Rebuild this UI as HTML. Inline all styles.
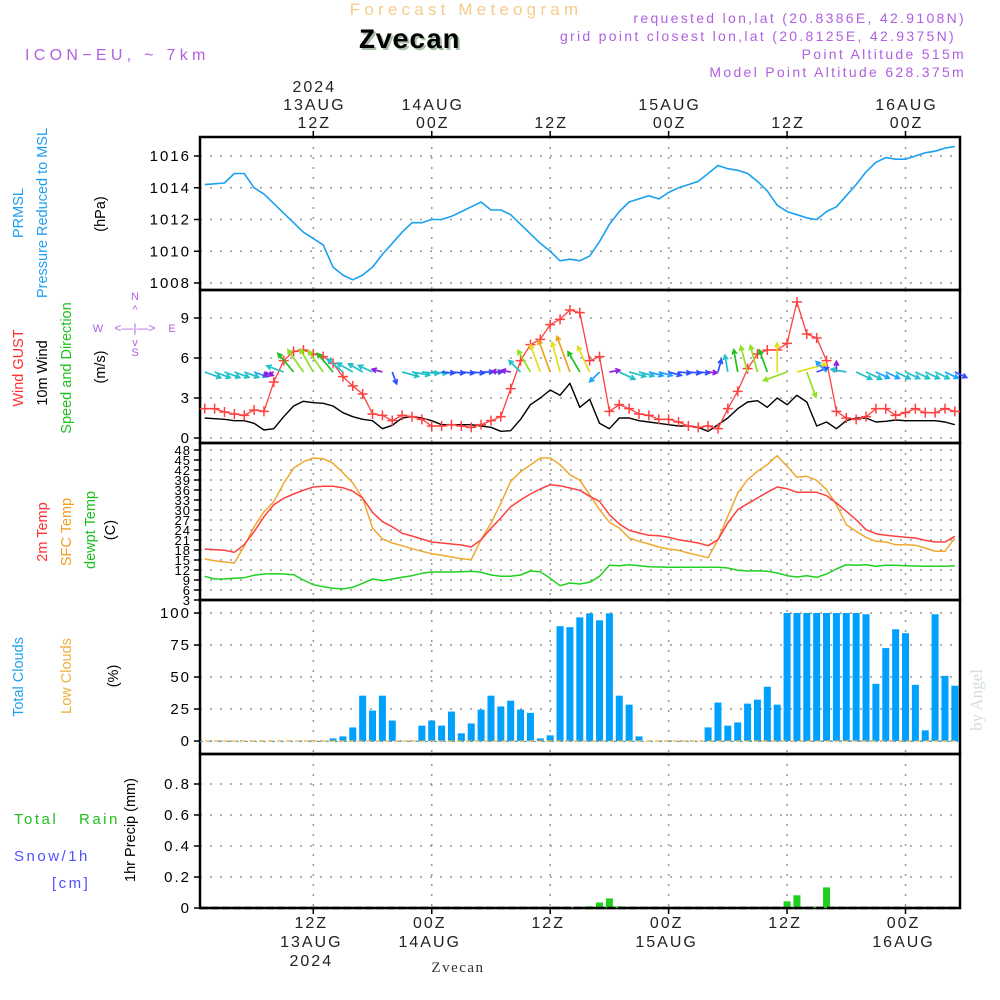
<!DOCTYPE html>
<html><head><meta charset="utf-8"><style>
html,body{margin:0;padding:0;background:#fff;}
svg{display:block;font-family:"Liberation Sans",sans-serif;}
</style></head><body>
<svg id="chart" width="1000" height="1000" viewBox="0 0 1000 1000" xmlns="http://www.w3.org/2000/svg">
<text x="466" y="15" font-size="17" fill="#f5cc8a" text-anchor="middle" letter-spacing="4.2">Forecast Meteogram</text>
<text x="411" y="50" font-size="28" font-weight="bold" font-family="Liberation Mono, monospace" fill="#a8c0a8" text-anchor="middle">Zvecan</text>
<text x="409" y="48" font-size="28" font-weight="bold" font-family="Liberation Mono, monospace" fill="#000" text-anchor="middle">Zvecan</text>
<text x="25" y="60" font-size="16" fill="#b060e0" letter-spacing="4.3">ICON−EU, ~ 7km</text>
<g font-size="14" fill="#b060e0" text-anchor="end" letter-spacing="2.3">
<text x="966" y="23">requested lon,lat (20.8386E, 42.9108N)</text>
<text x="956" y="41">grid point closest lon,lat (20.8125E, 42.9375N)</text>
<text x="966" y="59">Point Altitude 515m</text>
<text x="966" y="77">Model Point Altitude 628.375m</text>
</g>
<text x="458" y="972" font-size="15" font-family="Liberation Serif, serif" fill="#333" text-anchor="middle" letter-spacing="1.5">Zvecan</text>
<text transform="translate(982,700) rotate(-90)" font-size="17" font-family="Liberation Serif, serif" fill="#d4e0d4" text-anchor="middle">by Angel</text>

<g font-size="14.5" text-anchor="middle">
<text transform="translate(23,213) rotate(-90)" fill="#20a0f0">PRMSL</text>
<text transform="translate(47,213) rotate(-90)" fill="#20a0f0">Pressure Reduced to MSL</text>
<text transform="translate(105,214) rotate(-90)" fill="#000">(hPa)</text>
<text transform="translate(23,368) rotate(-90)" fill="#ff3030">Wind GUST</text>
<text transform="translate(47,373) rotate(-90)" fill="#000">10m Wind</text>
<text transform="translate(71,368) rotate(-90)" fill="#20c020">Speed and Direction</text>
<text transform="translate(105,367) rotate(-90)" fill="#000">(m/s)</text>
<text transform="translate(47,532) rotate(-90)" fill="#ff3030">2m Temp</text>
<text transform="translate(71,532) rotate(-90)" fill="#f0a020">SFC Temp</text>
<text transform="translate(95,530) rotate(-90)" fill="#20c020">dewpt Temp</text>
<text transform="translate(115,530) rotate(-90)" fill="#000">(C)</text>
<text transform="translate(23,677) rotate(-90)" fill="#20a0f0">Total Clouds</text>
<text transform="translate(71,676) rotate(-90)" fill="#f0b040">Low Clouds</text>
<text transform="translate(118,676) rotate(-90)" fill="#000">(%)</text>
<text transform="translate(135,830) rotate(-90)" fill="#000">1hr Precip (mm)</text>
</g>
<g font-size="15" letter-spacing="2.5">
<text x="14" y="824" fill="#20c020">Total</text>
<text x="79" y="824" fill="#20c020">Rain</text>
<text x="14" y="861" fill="#5050ff">Snow/1h</text>
<text x="52" y="888" fill="#5050ff">[cm]</text>
</g>
<g font-size="11" fill="#b060e0" text-anchor="middle">
<text x="135" y="300">N</text>
<text x="135" y="313">^</text>
<text x="135" y="332" font-size="12">&lt;—|—&gt;</text>
<text x="98" y="332">W</text>
<text x="172" y="332">E</text>
<text x="135" y="346">v</text>
<text x="135" y="356">S</text>
</g>
</svg>
<script>
// ---------- DATA ----------
const hoursStart = -11, hoursEnd = 65; // hours relative to 12Z 13AUG
const pressure = [1014.2,1014.25,1014.3,1014.9,1014.9,1014.0,1013.6,1013.0,1012.4,1011.8,1011.2,1010.8,1010.4,1009.0,1008.5,1008.2,1008.5,1009.0,1009.8,1010.5,1011.2,1011.8,1011.8,1012.0,1012.0,1012.2,1012.5,1012.8,1013.1,1012.6,1012.6,1012.3,1011.7,1011.1,1010.5,1010.0,1009.4,1009.5,1009.4,1009.7,1010.6,1011.7,1012.5,1013.1,1013.3,1013.5,1013.3,1013.7,1014.0,1014.2,1014.4,1014.9,1015.4,1015.2,1015.1,1014.9,1014.4,1013.8,1012.9,1012.5,1012.3,1012.1,1012.0,1012.5,1012.8,1013.5,1014.2,1015.0,1015.6,1015.9,1015.8,1015.8,1016.0,1016.2,1016.3,1016.5,1016.6];
const windGust = [2.2,2.2,1.95,1.8,1.7,2.1,2.0,4.2,5.8,6.5,6.6,6.3,6.1,5.6,4.6,3.9,3.3,1.8,1.7,1.3,1.7,1.6,1.4,0.9,0.9,1.0,0.9,0.8,1.0,1.3,1.6,3.7,5.8,7.0,7.4,8.5,8.9,9.6,9.4,5.8,6.1,2.0,2.5,2.2,1.8,1.7,1.4,1.4,1.2,0.9,0.8,0.9,0.7,2.2,3.5,5.2,6.3,6.6,6.6,7.1,10.2,7.8,7.5,5.8,2.0,1.5,1.4,1.6,2.2,2.2,1.7,1.9,2.2,1.9,1.9,2.2,2.0];
const windSpeed = [1.5,1.45,1.4,1.3,1.3,1.1,0.6,0.7,1.6,2.4,2.75,2.65,2.6,2.4,1.9,1.6,1.4,1.3,0.7,0.95,1.5,1.6,1.5,1.3,1.0,1.0,1.0,1.0,0.9,0.8,0.5,0.55,1.4,2.5,3.0,3.6,3.2,4.1,2.3,2.9,1.1,0.7,1.5,1.5,1.3,1.2,1.1,1.0,0.9,0.9,0.8,0.5,1.0,1.5,2.2,2.7,2.8,2.3,3.0,2.5,3.2,2.7,0.9,1.2,0.7,1.3,1.5,1.5,1.2,1.25,1.35,1.3,1.3,1.3,1.3,1.2,1.0];
const windDirDeg = [-20,-20,-20,-20,-20,-20,-20,200,160,130,125,120,125,130,140,150,150,155,165,-70,-15,-10,-5,-5,-5,-5,-5,-5,0,0,175,170,135,120,110,110,105,110,120,115,225,10,-25,-15,-15,-15,-15,-15,-5,-5,-5,-5,75,100,100,105,105,110,90,200,15,-70,20,135,90,170,-25,-25,-25,-25,-25,-25,-25,-25,-25,-25,-25];
const temp2m = [18.3,18.1,17.9,17.3,19.6,23.5,28,31.6,33.5,34.8,35.9,36.9,37.1,37.1,36.7,35.6,33.6,29.3,26.5,25.0,23.0,22.2,21.3,20.4,20.1,19.8,19.5,18.9,21.1,24.5,27.6,31.0,33.0,34.8,36.3,37.6,37.3,36.6,35.9,34.1,32.6,28.6,25.8,23.9,23.1,22.4,22.3,21.8,21.1,20.6,20.1,19.3,21.1,26.1,30.1,31.9,33.6,35.3,36.9,36.4,35.3,35.3,35.3,34.3,32.1,29.6,27.1,24.1,22.9,22.4,22.1,21.8,21.6,20.9,20.4,20.4,22.1];
const tempSfc = [15.3,14.8,14.4,14.1,19.1,25,29.5,32.5,38,42.5,44.5,45.6,45.4,44.0,41.2,38.1,33.6,24.6,21.3,20.1,19.3,18.4,17.6,16.9,16.4,15.9,15.4,15.1,21.1,26,32,38.6,41.5,43.5,45.6,45.6,43.6,40.6,38.9,34.6,30.1,26.3,24.6,21.6,20.6,19.8,18.9,18.3,17.9,17.1,16.4,15.7,21.1,28.1,35.1,39.1,41.6,43.6,46.3,43.1,39.8,40.1,38.9,36.1,31.6,25.6,23.6,21.8,20.6,20.4,19.6,19.6,19.4,18.6,17.6,17.6,21.6];
const dewpoint = [10.1,9.3,9.3,9.5,9.7,10.4,10.8,10.9,10.8,10.6,9.0,7.6,7.0,6.5,6.3,6.8,8.0,9.3,8.8,9.3,9.8,10.3,11.0,11.4,11.4,11.4,11.5,11.6,11.3,10.5,10.1,10.1,10.5,11.7,11.5,9.5,7.3,8.1,7.8,8.3,10.1,13.4,13.3,13.6,13.3,13.0,12.9,12.8,12.8,12.8,12.8,12.8,12.8,12.6,11.9,11.7,11.8,11.6,11.1,10.3,9.9,10.3,9.8,10.8,12.3,13.6,13.4,13.6,13.1,13.4,13.4,13.3,13.2,13.1,13.1,13.1,13.3];
const totalClouds = [0,0,0,0,0,0,0,0,0,0,0,0,0,2,3.6,10.6,35.4,23.8,35.4,16,0,0,12,16,12,23,6,13.7,24.5,35.4,27,31.5,24.5,22,2,4.4,89.7,88.9,96.6,99.7,94.3,99.7,35.4,28.4,3.6,0,0,0,0,0,0,10.6,30,12,14.5,29.2,32.3,42.4,28.4,100,100,100,100,100,100,100,100,99,44.7,72.6,87.3,84.2,43.9,8.3,99,50.9,43.2];
const lowClouds = new Array(77).fill(0);
const precip = [0,0,0,0,0,0,0,0,0,0,0,0,0,0,0,0,0,0,0,0,0,0,0,0,0,0,0,0,0,0,0,0,0,0,0,0,0,0.004,0,0.011,0.036,0.062,0.011,0,0,0,0,0,0,0,0,0,0,0,0,0,0,0,0.002,0.043,0.082,0,0.004,0.133,0,0,0,0,0,0,0,0,0,0,0,0,0];
const pressureTicks = [1008,1010,1012,1014,1016];
const windTicks = [0,3,6,9];
const tempTicks = [3,6,9,12,15,18,21,24,27,30,33,36,39,42,45,48];
const tempTickLabels = ["3","6","9","12","15","18","21","24","27","30","33","36","39","42","45","48"];
const cloudTicks = [0,25,50,75,100];
const precipTicks = [0,0.2,0.4,0.6,0.8];
const precipTickLabels = ["0","0.2","0.4","0.6","0.8"];
const timeTickHours = [0,12,24,36,48,60];
const timeHourLabels = ["12Z","00Z","12Z","00Z","12Z","00Z"];
const timeDateLabels = ["13AUG","14AUG","","15AUG","","16AUG"];
const timeYearLabels = ["2024","","","","",""];

// ---------- SCALES ----------
const svg = document.getElementById('chart');
const NS = 'http://www.w3.org/2000/svg';
const X0 = 200, X1 = 960;
const xT = t => 313.3 + 9.87 * t;
const yP = v => 283 - (v - 1008) * 15.875;
const yW = v => 438 - v * 13.333;
const yT = v => 450 + (48 - v) * 10 / 3;
const yC = v => 741 - v * 1.28;
const yR = v => 908 - v * 155;
const hours = [];
for (let h = hoursStart; h <= hoursEnd; h++) hours.push(h);
const panels = [[137,290,yP,pressureTicks,null],[290,443,yW,windTicks,null],[443,600,yT,tempTicks,tempTickLabels],[600,754,yC,cloudTicks,null],[754,908,yR,precipTicks,precipTickLabels]];

function mk(tag, attrs, parent) {
  const e = document.createElementNS(NS, tag);
  for (const k in attrs) e.setAttribute(k, attrs[k]);
  (parent || svg).appendChild(e);
  return e;
}

// ---------- GRID + AXES ----------
panels.forEach((p, pi) => {
  const [top, bot, ys, ticks, labels] = p;
  const g = mk('g', {});
  
  
  timeTickHours.forEach(h => {
    const l = mk('line', {x1: xT(h), x2: xT(h), y1: top, y2: bot, stroke: '#999', 'stroke-width': 1.5, 'stroke-dasharray': '2 8'}, g);
    
    
  });
  ticks.forEach((v, i) => {
    const y = ys(v);
    const l = mk('line', {x1: X0, x2: X1, y1: y, y2: y, stroke: '#999', 'stroke-width': 1.5, 'stroke-dasharray': '2 8'}, g);
    
    
    const tk = mk('line', {x1: X0 - 6, x2: X0, y1: y, y2: y, stroke: '#000', 'stroke-width': 1.5}, g);
    
    
    const tx = mk('text', {x: X0 - 9, y: y + 5, 'font-size': pi === 2 ? 13 : 15, 'text-anchor': 'end', fill: '#000', 'letter-spacing': pi === 2 ? 1 : 2}, g);
    tx.textContent = labels ? labels[i] : String(v);
    
    
  });
  const r = mk('rect', {x: X0, y: top, width: X1 - X0, height: bot - top, fill: 'none', stroke: '#000', 'stroke-width': 2.5}, g);
  
  
});

// time axes (top & bottom)
timeTickHours.forEach((h, i) => {
  const x = xT(h);
  const t1 = mk('line', {x1: x, x2: x, y1: 131, y2: 137, stroke: '#000', 'stroke-width': 1.5});
  
  
  const t2 = mk('line', {x1: x, x2: x, y1: 908, y2: 914, stroke: '#000', 'stroke-width': 1.5});
  
  
  const rows = [[timeHourLabels[i], 128, 928], [timeDateLabels[i], 110, 947], [timeYearLabels[i], 92, 966]];
  rows.forEach(([txt, yt, yb]) => {
    if (!txt) return;
    const a = mk('text', {x: x + 1, y: yt, 'font-size': 16, 'text-anchor': 'middle', fill: '#222', 'letter-spacing': 2});
    a.textContent = txt;
    
    
    const b = mk('text', {x: x - 2, y: yb, 'font-size': 16, 'text-anchor': 'middle', fill: '#222', 'letter-spacing': 2});
    b.textContent = txt;
    
    
  });
});

// ---------- SERIES ----------
function line(arr, ys, color, name, w) {
  const pts = arr.map((v, i) => xT(hours[i]).toFixed(1) + ',' + ys(v).toFixed(1)).join(' ');
  const pl = mk('polyline', {points: pts, fill: 'none', stroke: color, 'stroke-width': w || 1.5, 'stroke-linejoin': 'round'});
  
  
  return pl;
}
line(pressure, yP, '#1aa0f0', 'prmsl-line', 1.6);

// clouds bars
const cg = mk('g', {});


totalClouds.forEach((v, i) => {
  if (v <= 0) return;
  const x = xT(hours[i]);
  const b = mk('rect', {x: Math.max(X0, x - 3.5), y: yC(v), width: Math.min(7, X1 - (x - 3.5)), height: yC(0) - yC(v), fill: '#00a0ff'}, cg);
  
  
});
const lc = line(lowClouds, yC, '#f0b040', 'low-clouds-line', 1.2);
lc.setAttribute('stroke-dasharray', '6 3');
const lcb = mk('line', {x1: X0, x2: X1, y1: yC(0) + 0.5, y2: yC(0) + 0.5, stroke: '#4aa8e0', 'stroke-width': 1, 'stroke-dasharray': '3 6'});



// precip bars
const pg = mk('g', {});


precip.forEach((v, i) => {
  if (v <= 0) return;
  const x = xT(hours[i]);
  const b = mk('rect', {x: x - 3.5, y: yR(v), width: 7, height: yR(0) - yR(v), fill: '#20d020'}, pg);
  
  
});
const pz = mk('line', {x1: X0, x2: X1, y1: 908, y2: 908, stroke: '#000', 'stroke-width': 2.5, 'stroke-dasharray': '8 3'});



// temperatures
line(dewpoint, yT, '#20d020', 'dewpoint-line', 1.5);
line(tempSfc, yT, '#f0a830', 'sfc-temp-line', 1.5);
line(temp2m, yT, '#ff4040', 't2m-line', 1.5);

// wind
line(windSpeed, yW, '#000', 'mean-wind-line', 1.4);
line(windGust, yW, '#ff4040', 'gust-line', 1.3);
const gm = mk('g', {});


windGust.forEach((v, i) => {
  const x = xT(hours[i]), y = yW(v);
  const p = mk('path', {d: `M${x-5},${y}H${x+5}M${x},${y-5}V${y+5}`, stroke: '#ff4040', 'stroke-width': 1.5}, gm);
  
  
});
function windColor(s) {
  if (s < 0.8) return '#9020e0';
  if (s < 1.1) return '#3050ff';
  if (s < 1.3) return '#20a0ff';
  if (s < 2.0) return '#20c0c8';
  if (s < 2.5) return '#20c020';
  if (s < 2.9) return '#90e020';
  if (s < 3.3) return '#e0e020';
  return '#f0a020';
}
const wg = mk('g', {});


windDirDeg.forEach((d, i) => {
  const s = windSpeed[i];
  const x = xT(hours[i]), y = 372;
  const len = 5 + s * 8;
  const a = d * Math.PI / 180;
  const x2 = x + Math.cos(a) * len, y2 = y - Math.sin(a) * len;
  const h1 = a + Math.PI - 0.5, h2 = a + Math.PI + 0.5;
  const c = windColor(s);
  const p = mk('path', {d: `M${x},${y}L${x2},${y2}M${x2 + Math.cos(h1)*5},${y2 - Math.sin(h1)*5}L${x2},${y2}L${x2 + Math.cos(h2)*5},${y2 - Math.sin(h2)*5}`, stroke: c, 'stroke-width': 1.7, fill: 'none'}, wg);
  
  
});
</script>
</body></html>
